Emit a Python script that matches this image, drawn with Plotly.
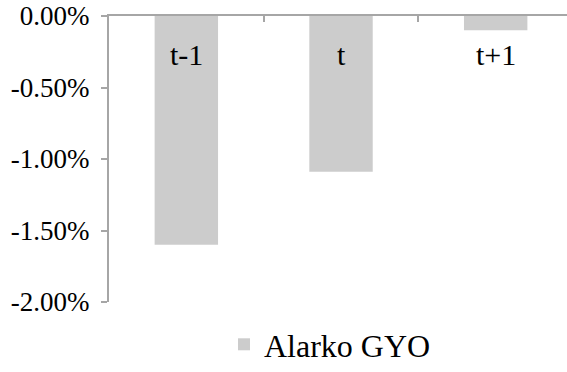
import plotly.graph_objects as go

categories = ["t-1", "t", "t+1"]
values = [-0.0160, -0.0109, -0.0010]
series_name = "Alarko GYO"
y_ticks = [0, -0.005, -0.01, -0.015, -0.02]
y_tick_text = [f"{abs(v) * 100:.2f}%" if v == 0 else f"-{abs(v) * 100:.2f}%" for v in y_ticks]

FONT = "Liberation Serif"
AXIS = "#a6a6a6"

fig = go.Figure()
fig.add_trace(go.Bar(x=categories, y=values, name=series_name,
                     marker=dict(color="#cccccc", line=dict(width=0)),
                     showlegend=True))

for c in categories:
    fig.add_annotation(x=c, y=0, xref="x", yref="y", text=c, showarrow=False,
                       yanchor="top", yshift=-20,
                       font=dict(family=FONT, size=30, color="black"))

fig.update_layout(
    width=567, height=372,
    margin=dict(l=109, r=0, t=16, b=70),
    plot_bgcolor="white", paper_bgcolor="white",
    bargap=0.59,
    font=dict(family=FONT, color="black"),
    showlegend=True,
    legend=dict(orientation="h", x=0.582, xanchor="center", xref="container",
                y=-0.027, yanchor="bottom", yref="container",
                font=dict(family=FONT, size=32, color="black")),
    xaxis=dict(side="top", range=[-0.5, 2.461], showline=True, linecolor=AXIS,
               linewidth=2, ticks="inside", ticklen=6, tickcolor=AXIS,
               tickwidth=1.5, tickson="boundaries", showticklabels=False,
               showgrid=False, zeroline=False, fixedrange=True),
    yaxis=dict(range=[-0.02, 0], tickvals=y_ticks, ticktext=y_tick_text,
               showline=True, linecolor=AXIS, linewidth=2, ticks="outside",
               ticklen=6, tickcolor=AXIS, tickwidth=1.5, showgrid=False,
               zeroline=False, ticklabelstandoff=6,
               tickfont=dict(family=FONT, size=27, color="black")),
)

fig.write_html("out.html")
